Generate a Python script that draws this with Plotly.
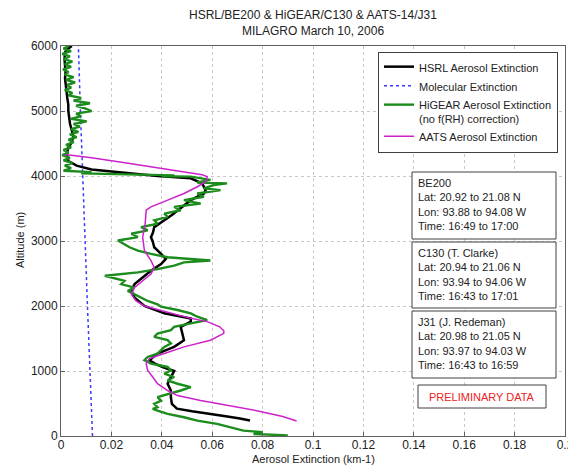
import plotly.graph_objects as go

# ---------------- data ----------------
hsrl_alt = [6000, 5950, 5900, 5800, 5700, 5600, 5500, 5400, 5300, 5200, 5100, 5000,
            4900, 4800, 4700, 4600, 4500, 4440, 4340, 4230, 4160, 4100, 4050, 4000,
            3964, 3886, 3783, 3731, 3628, 3550, 3473, 3400, 3318, 3214, 3130, 3059, 2992,
            2904, 2801, 2724, 2646, 2543, 2439, 2336, 2233, 2129, 2000,
            1887, 1809, 1758, 1680, 1577, 1474, 1371, 1268, 1165, 1100, 1062, 1000,
            907, 804, 701, 598, 495, 420, 380, 340, 300, 270, 240]
hsrl_ext = [0.0043, 0.0025, 0.0016, 0.0014, 0.0016, 0.0018, 0.0016, 0.0020, 0.0022, 0.0025, 0.0029, 0.0029,
            0.0032, 0.0036, 0.0043, 0.0049, 0.0040, 0.0029, 0.0023, 0.0029, 0.0062, 0.0121, 0.0252, 0.0383,
            0.0515, 0.0560, 0.0574, 0.0567, 0.0515, 0.0490, 0.0462, 0.0440, 0.0410, 0.0370, 0.0365, 0.0357, 0.0364,
            0.0370, 0.0397, 0.0416, 0.0397, 0.0357, 0.0324, 0.0292, 0.0279, 0.0292, 0.0331,
            0.0410, 0.0515, 0.0515, 0.0475, 0.0482, 0.0488, 0.0449, 0.0383, 0.0351, 0.0380, 0.0403, 0.0449,
            0.0436, 0.0423, 0.0436, 0.0436, 0.0440, 0.0460, 0.0520, 0.0600, 0.0660, 0.0710, 0.0750]

mol_alt = [0, 500, 1000, 1500, 2000, 2500, 3000, 3500, 4000, 4500, 5000, 5500, 6000]
mol_ext = [0.0125, 0.0121, 0.0116, 0.0110, 0.0105, 0.0100, 0.0095, 0.0090, 0.0085, 0.0081, 0.0077, 0.0073, 0.0069]

higear_alt = [6000, 5960, 5920, 5880, 5840, 5800, 5760, 5720, 5680, 5640, 5600, 5560, 5520, 5480,
              5440, 5400, 5360, 5320, 5280, 5240, 5200, 5160, 5120, 5080, 5040, 5000, 4960, 4920,
              4880, 4840, 4800, 4760, 4720, 4680, 4640, 4600, 4560, 4520, 4480, 4440, 4400, 4360,
              4320, 4280, 4240, 4200, 4160, 4120, 4080, 4060, 4040, 4020, 4010, 3995,
              3990, 3940, 3900, 3886, 3860, 3810, 3783, 3731, 3680, 3628, 3576, 3525, 3473, 3420,
              3370, 3318, 3266, 3214, 3163, 3111, 3060, 3008, 2956, 2904, 2853, 2801, 2750, 2700,
              2672, 2620, 2568, 2517, 2465, 2440, 2388, 2336, 2284, 2233, 2180, 2130, 2077, 2026,
              1990, 1938, 1887, 1835, 1784, 1732, 1680, 1629, 1577, 1526, 1474, 1423, 1371, 1320,
              1268, 1216, 1165, 1113, 1062, 1010, 958, 907, 855, 804, 751, 700, 648, 597, 545, 494,
              442, 416, 392, 340, 289, 237, 186, 134, 82, 60, 31, 10]
higear_ext = [0.0030, 0.0010, 0.0040, 0.0005, 0.0035, 0.0010, 0.0045, 0.0015, 0.0040, 0.0008, 0.0030, 0.0015, 0.0050, 0.0020,
              0.0056, 0.0025, 0.0040, 0.0015, 0.0045, 0.0030, 0.0080, 0.0050, 0.0115, 0.0060, 0.0095, 0.0121, 0.0060, 0.0080,
              0.0040, 0.0102, 0.0050, 0.0075, 0.0040, 0.0069, 0.0035, 0.0062, 0.0030, 0.0050, 0.0020, 0.0040, 0.0010, 0.0030,
              0.0005, 0.0035, 0.0010, 0.0045, 0.0015, 0.0040, 0.0010, 0.0121, 0.0080, 0.0300, 0.0450, 0.0400,
              0.0515, 0.0593, 0.0540, 0.0659, 0.0606, 0.0567, 0.0633, 0.0541, 0.0567, 0.0488, 0.0554, 0.0449, 0.0475, 0.0410,
              0.0423, 0.0370, 0.0383, 0.0318, 0.0344, 0.0279, 0.0305, 0.0226, 0.0252, 0.0272, 0.0305, 0.0357, 0.0423, 0.0593,
              0.0488, 0.0449, 0.0383, 0.0305, 0.0174, 0.0200, 0.0252, 0.0239, 0.0292, 0.0265, 0.0292, 0.0318, 0.0344, 0.0383,
              0.0397, 0.0462, 0.0515, 0.0541, 0.0580, 0.0515, 0.0449, 0.0436, 0.0383, 0.0370, 0.0423, 0.0436, 0.0410, 0.0397,
              0.0383, 0.0344, 0.0331, 0.0357, 0.0423, 0.0436, 0.0410, 0.0449, 0.0423, 0.0462, 0.0515, 0.0475, 0.0423, 0.0383, 0.0397, 0.0370,
              0.0383, 0.0364, 0.0383, 0.0423, 0.0488, 0.0541, 0.0619, 0.0672, 0.0724, 0.0800, 0.0764, 0.0900]

aats_alt = [4330, 4300, 4280, 4200, 4100, 4020, 3990, 3912, 3835, 3731, 3628, 3525, 3473, 3266, 3059,
            2853, 2698, 2594, 2491, 2388, 2284, 2180, 2077, 2000, 1900, 1810, 1760, 1680, 1620, 1580,
            1474, 1371, 1268, 1190, 1113, 1010, 907, 804, 700, 622, 545, 468, 390, 300, 230]
aats_ext = [0.0016, 0.0080, 0.0121, 0.0260, 0.0420, 0.0560, 0.0580, 0.0574, 0.0541, 0.0488, 0.0423, 0.0357, 0.0338, 0.0334, 0.0324,
            0.0331, 0.0357, 0.0370, 0.0357, 0.0324, 0.0292, 0.0279, 0.0298, 0.0331, 0.0423, 0.0515, 0.0580, 0.0630, 0.0646, 0.0646,
            0.0593, 0.0488, 0.0410, 0.0351, 0.0338, 0.0344, 0.0364, 0.0383, 0.0423, 0.0462, 0.0554, 0.0672, 0.0777, 0.0880, 0.0935]

x_tickvals = [0, 0.02, 0.04, 0.06, 0.08, 0.1, 0.12, 0.14, 0.16, 0.18, 0.2]
x_ticktext = ["0", "0.02", "0.04", "0.06", "0.08", "0.1", "0.12", "0.14", "0.16", "0.18", "0.2"]
y_tickvals = [0, 1000, 2000, 3000, 4000, 5000, 6000]
y_ticktext = ["0", "1000", "2000", "3000", "4000", "5000", "6000"]

title_lines = ["HSRL/BE200 & HiGEAR/C130 & AATS-14/J31", "MILAGRO March 10, 2006"]
box_texts = [
    ["BE200", "Lat: 20.92 to 21.08 N", "Lon: 93.88 to 94.08 W", "Time: 16:49 to 17:00"],
    ["C130 (T. Clarke)", "Lat: 20.94 to 21.06 N", "Lon: 93.94 to 94.06 W", "Time: 16:43 to 17:01"],
    ["J31 (J. Redeman)", "Lat: 20.98 to 21.05 N", "Lon: 93.97 to 94.03 W", "Time: 16:43 to 16:59"],
]
prelim_text = "PRELIMINARY DATA"

# ---------------- figure ----------------
FONT = "Liberation Sans, Arial, sans-serif"
OFF = 8                      # page body margin in the browser
W, H = 576 - OFF, 468 - OFF
PLOT_L, PLOT_R, PLOT_T, PLOT_B = 61, 565, 46, 436   # page pixels of the plot area
L, T = PLOT_L - OFF, PLOT_T - OFF
R, B = W - (PLOT_R - OFF), H - (PLOT_B - OFF)
PW, PH = PLOT_R - PLOT_L, PLOT_B - PLOT_T

def px(x):
    return (x - PLOT_L) / PW

def py(y):
    return (PLOT_B - y) / PH

fig = go.Figure()
fig.add_trace(go.Scatter(x=hsrl_ext, y=hsrl_alt, mode="lines", name="HSRL Aerosol Extinction",
                         line=dict(color="#000000", width=2.5)))
fig.add_trace(go.Scatter(x=mol_ext, y=mol_alt, mode="lines", name="Molecular Extinction",
                         line=dict(color="#3a3aff", width=1.5, dash="dot")))
fig.add_trace(go.Scatter(x=higear_ext, y=higear_alt, mode="lines",
                         name="HiGEAR Aerosol Extinction<br>(no f(RH) correction)",
                         line=dict(color="#1c8c1c", width=2.4)))
fig.add_trace(go.Scatter(x=aats_ext, y=aats_alt, mode="lines", name="AATS Aerosol Extinction",
                         line=dict(color="#cc22cc", width=1.5)))

axis_common = dict(showline=True, linecolor="#606060", linewidth=1, mirror=True,
                   ticks="inside", ticklen=4, tickcolor="#606060", automargin=False,
                   showgrid=True, gridcolor="#c8c8c8", griddash="dot", gridwidth=1,
                   zeroline=False, tickfont=dict(family=FONT, size=12, color="#222"))

fig.update_layout(
    width=W, height=H,
    margin=dict(l=L, r=R, t=T, b=B, pad=0),
    paper_bgcolor="white", plot_bgcolor="white",
    font=dict(family=FONT, size=11, color="#222"),
    xaxis=dict(range=[0, 0.2], tickvals=x_tickvals, ticktext=x_ticktext,
               ticklabelstandoff=-2, **axis_common),
    yaxis=dict(range=[0, 6000], tickvals=y_tickvals, ticktext=y_ticktext, **axis_common),
    showlegend=True,
    legend=dict(x=px(378), y=py(52), xanchor="left", yanchor="top",
                bgcolor="white", bordercolor="#404040", borderwidth=1,
                font=dict(family=FONT, size=11, color="#222"),
                itemwidth=30, valign="top", tracegroupgap=0),
)

# title (two lines)
for i, line in enumerate(title_lines):
    fig.add_annotation(text=line, xref="paper", yref="paper", x=0.5, y=py(15 + 16 * i),
                       xanchor="center", yanchor="middle", showarrow=False,
                       font=dict(family=FONT, size=12, color="#222"))

# axis titles
fig.add_annotation(text="Aerosol Extinction (km-1)", xref="paper", yref="paper",
                   x=0.5, y=py(459), xanchor="center", yanchor="middle", showarrow=False,
                   font=dict(family=FONT, size=11, color="#222"))
fig.add_annotation(text="Altitude (m)", xref="paper", yref="paper",
                   x=px(20), y=py(240), xanchor="center", yanchor="middle", textangle=-90,
                   showarrow=False, font=dict(family=FONT, size=11, color="#222"))

# info boxes
boxes_px = [(412, 556, 172, 239), (412, 556, 242, 308), (412, 556, 311, 378)]
for (x0, x1, y0, y1), lines in zip(boxes_px, box_texts):
    fig.add_shape(type="rect", xref="paper", yref="paper",
                  x0=px(x0), x1=px(x1), y0=py(y1), y1=py(y0),
                  line=dict(color="#404040", width=1), fillcolor="white", layer="above")
    fig.add_annotation(text="<br>".join(lines), xref="paper", yref="paper",
                       x=px(416), y=py(y0 + 3), xanchor="left", yanchor="top", align="left",
                       showarrow=False, font=dict(family=FONT, size=11, color="#222"))

fig.add_shape(type="rect", xref="paper", yref="paper",
              x0=px(418), x1=px(546), y0=py(408), y1=py(385),
              line=dict(color="#404040", width=1), fillcolor="white", layer="above")
fig.add_annotation(text=prelim_text, xref="paper", yref="paper",
                   x=px(482), y=py(396.5), xanchor="center", yanchor="middle", showarrow=False,
                   font=dict(family=FONT, size=11, color="#ee2222"))

fig.write_html("out.html")
